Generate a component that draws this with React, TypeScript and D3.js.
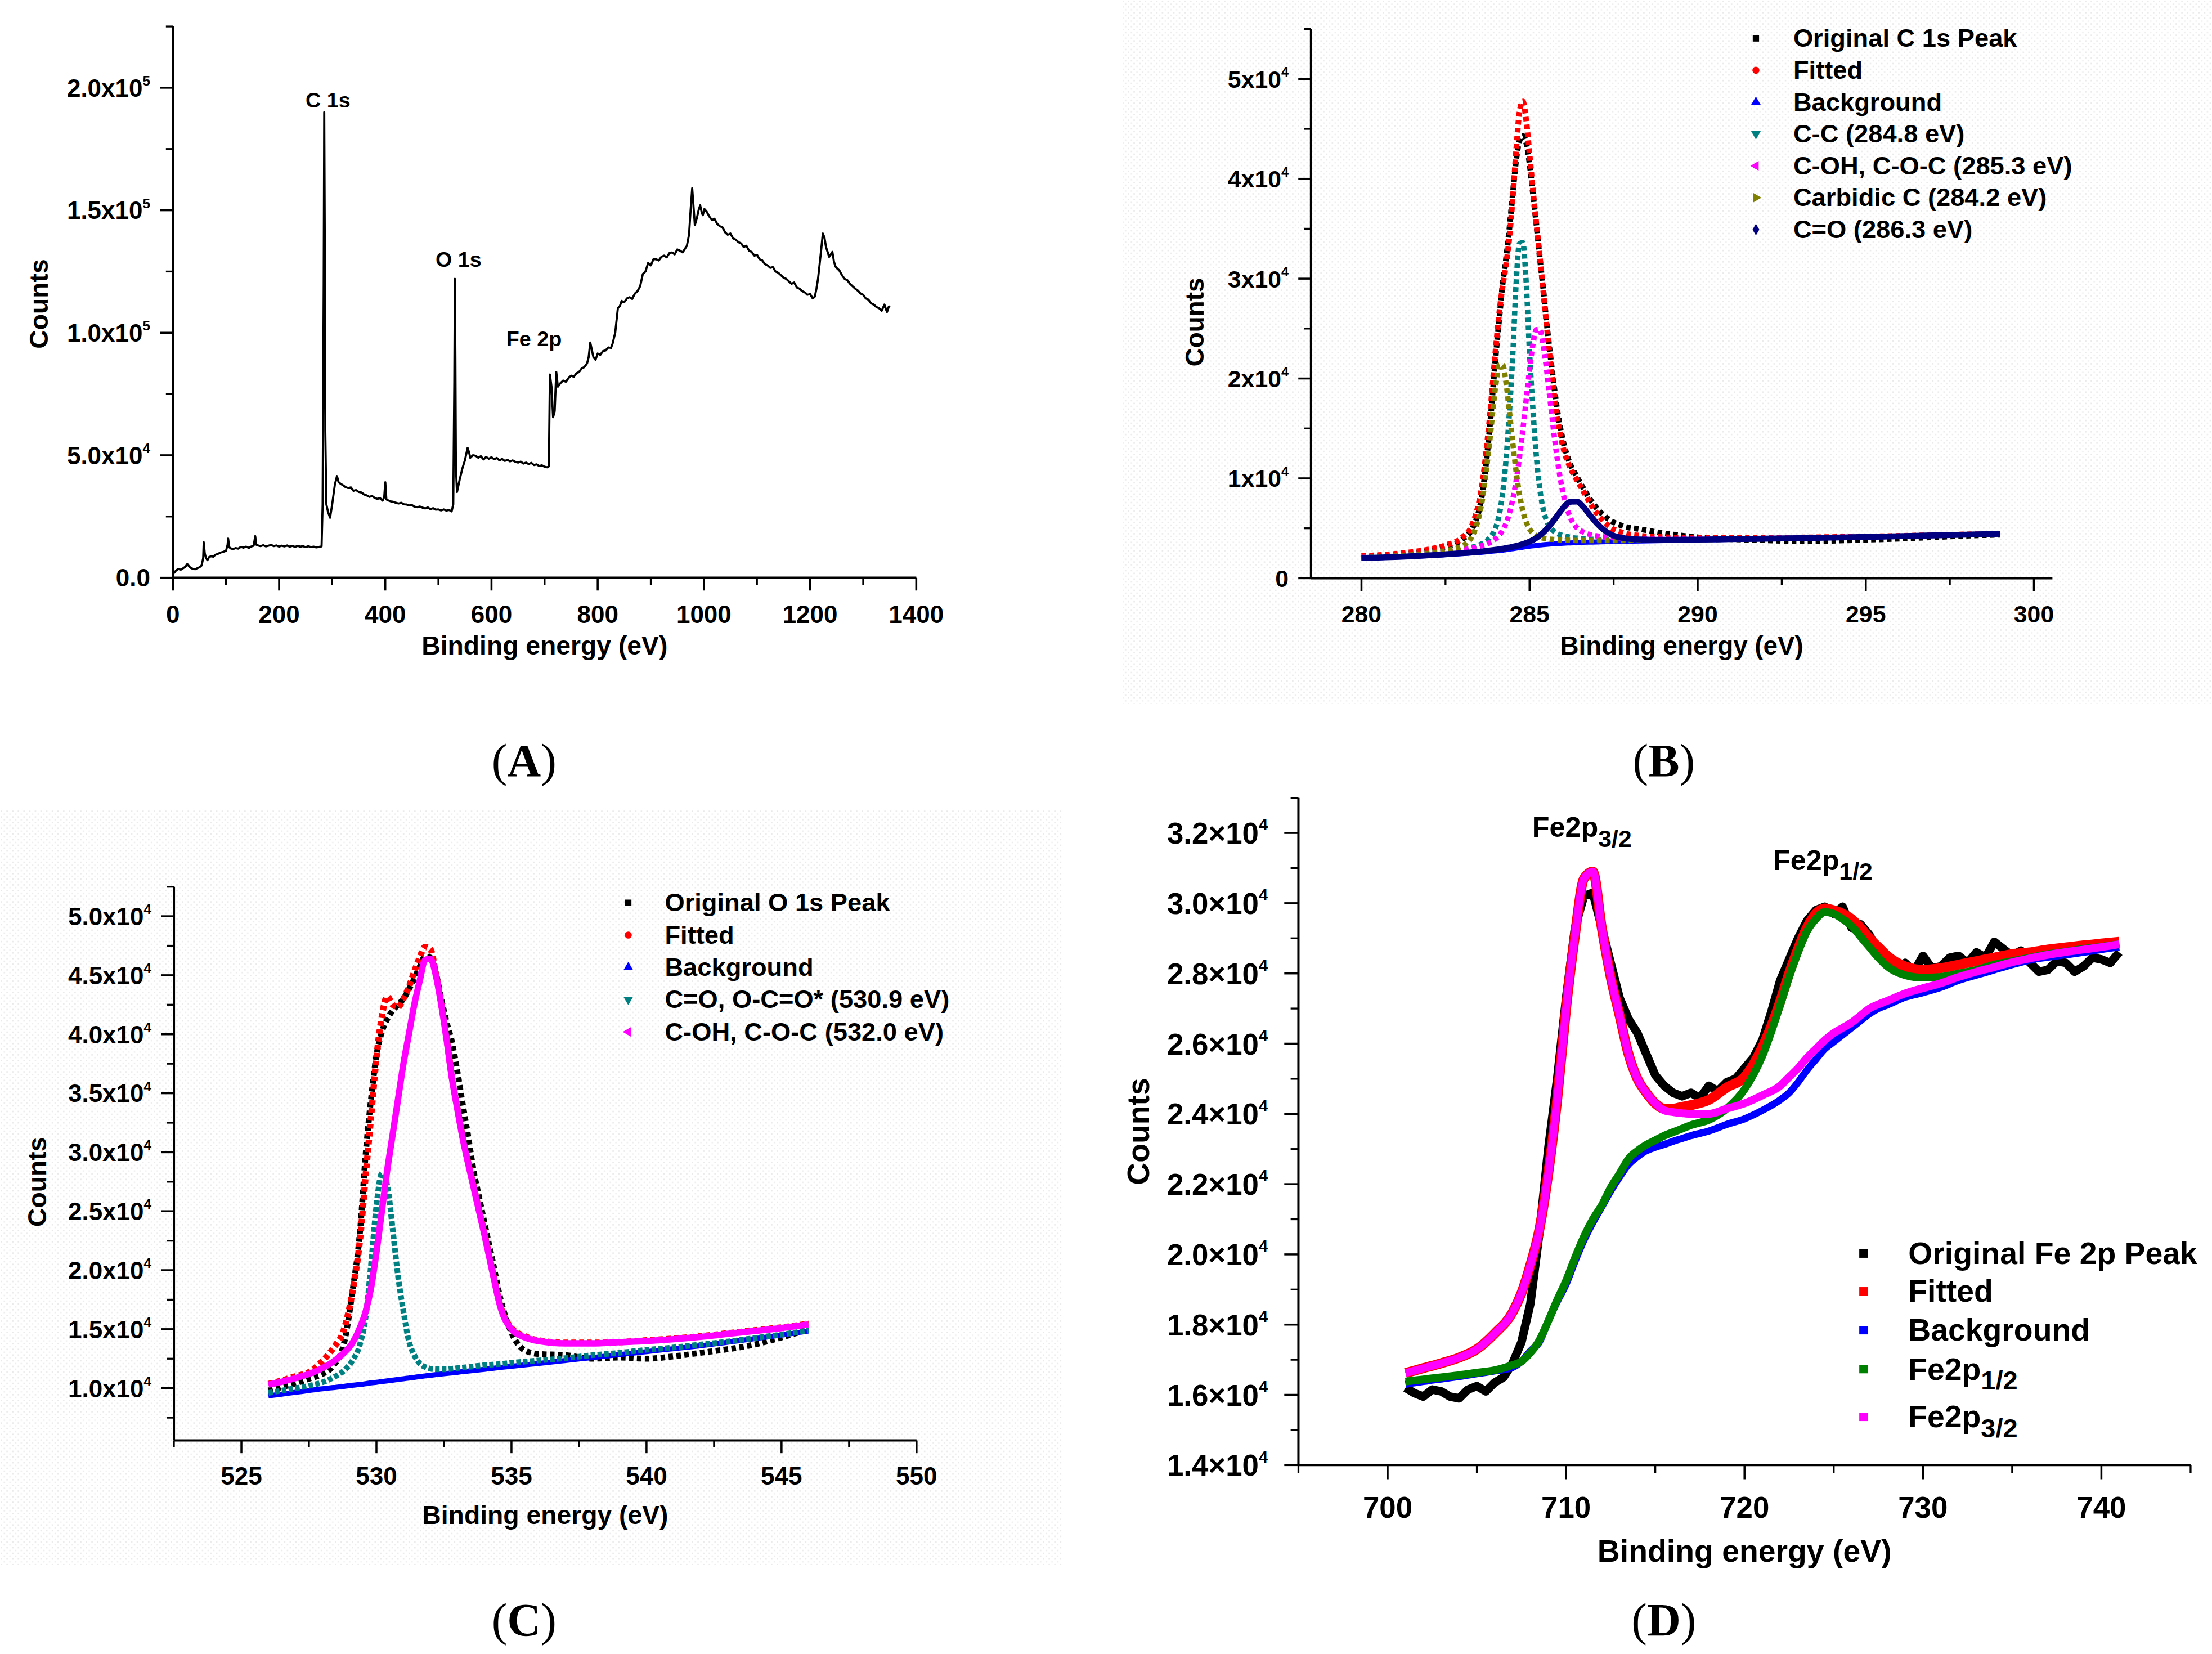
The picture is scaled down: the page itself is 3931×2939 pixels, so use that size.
import React from 'react';
import * as d3 from 'd3';

const FONT = "'Liberation Sans', Arial, Helvetica, sans-serif";
const SERIF = "'Liberation Serif', 'Times New Roman', Times, serif";

// (A) survey spectrum: [binding energy (eV), counts]
const surveyPoints: [number, number][] = [
  [0, 1500], [3, 2200], [6, 3000], [10, 3600], [15, 3300], [20, 4000], [24, 4600], [27, 5600], [30, 4800],
  [33, 4100], [37, 3700], [42, 3500], [46, 3900], [50, 4300], [54, 5000], [57, 8000], [58, 14500], [60, 10000],
  [62, 8200], [65, 7200], [68, 8400], [72, 8800], [76, 8600], [80, 9400], [85, 9800], [90, 10300], [95, 10600],
  [100, 11000], [103, 13500], [104, 16000], [106, 12500], [109, 12000], [113, 11700], [118, 12100], [123, 11900],
  [128, 12600], [133, 12300], [138, 12700], [143, 12200], [148, 12800], [152, 13100], [154, 15500], [155, 17000],
  [157, 13500], [160, 13200], [165, 12900], [170, 13300], [175, 12800], [180, 13100], [185, 13400], [190, 12900],
  [195, 13200], [200, 12700], [205, 13100], [210, 12800], [215, 13200], [220, 12700], [225, 13000], [230, 12600],
  [235, 13000], [240, 12700], [245, 12900], [250, 12500], [255, 12900], [260, 12500], [265, 12700], [270, 12400],
  [275, 12600], [280, 12800], [282, 30000], [284, 120000], [285, 190000], [286, 140000], [287, 60000], [289, 30000],
  [292, 27000], [296, 24500], [300, 30000], [305, 38000], [309, 41500], [312, 39000], [315, 38500], [320, 37800],
  [325, 37000], [330, 36600], [335, 36900], [340, 35500], [345, 35800], [350, 35000], [355, 34800], [360, 34000],
  [365, 33600], [370, 33000], [375, 33400], [380, 32600], [385, 32200], [390, 32500], [395, 31500], [398, 33000],
  [400, 39000], [402, 32000], [405, 31600], [410, 31200], [415, 31000], [420, 30600], [425, 30300], [430, 30600],
  [435, 30000], [440, 29900], [445, 29500], [450, 29700], [455, 29000], [460, 28800], [465, 29100], [470, 28600],
  [475, 28300], [480, 28700], [485, 28000], [490, 28400], [495, 27800], [500, 27900], [505, 27500], [510, 27900],
  [515, 27400], [520, 27700], [525, 27100], [528, 30000], [530, 80000], [531, 122000], [532, 90000], [533, 45000],
  [535, 35000], [540, 40000], [545, 44500], [550, 48000], [555, 53000], [558, 51000], [560, 49000], [565, 50000],
  [570, 49800], [575, 49000], [580, 49600], [585, 48300], [590, 49300], [595, 48600], [600, 49200], [605, 48400],
  [610, 48900], [615, 47900], [620, 48500], [625, 47700], [630, 48100], [635, 47500], [640, 47900], [645, 47300],
  [650, 47000], [655, 47400], [660, 46600], [665, 47000], [670, 46400], [675, 46900], [680, 46000], [685, 46300],
  [690, 45600], [695, 45900], [700, 45300], [705, 45100], [708, 45500], [710, 83000], [713, 78000], [716, 65500],
  [719, 68000], [722, 84000], [725, 78000], [730, 79500], [735, 80500], [740, 80000], [745, 81500], [750, 82500],
  [755, 82000], [760, 83500], [765, 84000], [770, 85500], [775, 86000], [780, 87500], [783, 90000], [786, 96000],
  [789, 93000], [792, 90000], [796, 89000], [800, 91500], [805, 91000], [810, 92500], [815, 92800], [820, 94000],
  [825, 93800], [828, 95500], [833, 100000], [838, 110000], [842, 111000], [845, 113000], [850, 112500],
  [855, 114000], [860, 114500], [865, 113800], [870, 116000], [875, 117000], [880, 119000], [885, 124000],
  [890, 125000], [895, 128500], [900, 127500], [905, 130000], [910, 130000], [915, 129500], [920, 131000],
  [925, 131500], [930, 130800], [935, 132500], [940, 132800], [945, 132000], [950, 134000], [955, 133500],
  [960, 132800], [965, 134500], [968, 135500], [972, 140000], [975, 150000], [978, 159000], [981, 150000],
  [983, 144000], [987, 147000], [990, 150000], [993, 152000], [996, 149000], [998, 148000], [1001, 150500],
  [1005, 149500], [1010, 147500], [1015, 146000], [1020, 146500], [1025, 144500], [1030, 143500], [1035, 143000],
  [1040, 141000], [1045, 140000], [1050, 140500], [1055, 138500], [1060, 138000], [1065, 137000], [1070, 136500],
  [1075, 135000], [1080, 135500], [1085, 133500], [1090, 133000], [1095, 131500], [1100, 131800], [1105, 130000],
  [1110, 129500], [1115, 128000], [1120, 127500], [1125, 126500], [1130, 126800], [1135, 125000], [1140, 124500],
  [1145, 123500], [1150, 122500], [1155, 122000], [1160, 121000], [1165, 120000], [1170, 120500], [1175, 118500],
  [1180, 118000], [1185, 117000], [1190, 116500], [1195, 115500], [1200, 115800], [1205, 114000], [1209, 114800],
  [1212, 118000], [1215, 122000], [1218, 128000], [1221, 134000], [1224, 140500], [1227, 139000], [1230, 135000],
  [1233, 133000], [1236, 131000], [1239, 132000], [1242, 133000], [1245, 129000], [1248, 127000], [1252, 126000],
  [1255, 125500], [1260, 123500], [1265, 122000], [1270, 121500], [1275, 120000], [1280, 119000], [1285, 118000],
  [1290, 117200], [1295, 116000], [1300, 115500], [1305, 114000], [1310, 113500], [1315, 112000], [1320, 111500],
  [1325, 110500], [1330, 110000], [1335, 109000], [1340, 111500], [1343, 109500], [1345, 108500], [1348, 110500],
  [1350, 111000],
];
const surveyPeaks = [
  { label: 'C 1s', energy: 292, counts: 192000 },
  { label: 'O 1s', energy: 538, counts: 127000 },
  { label: 'Fe 2p', energy: 680, counts: 94500 },
];
const surveyXTicks = [0, 200, 400, 600, 800, 1000, 1200, 1400];
const surveyYTicks = [0, 50000, 100000, 150000, 200000];

// (B) C 1s
const c1sEnergy = [280, 280.5, 281, 281.5, 282, 282.5, 283, 283.3, 283.6, 283.8, 284.0, 284.1, 284.2, 284.3, 284.4, 284.5, 284.6, 284.7, 284.8, 284.9, 285.0, 285.1, 285.2, 285.3, 285.4, 285.5, 285.6, 285.7, 285.8, 286.0, 286.2, 286.4, 286.6, 286.8, 287.0, 287.4, 287.8, 288.3, 289, 290, 291, 292, 293, 294, 295, 296, 297, 298, 299];
const c1sOriginal = [2050, 2200, 2350, 2500, 2750, 3150, 3900, 5000, 8600, 14500, 22500, 26000, 29500, 32000, 35000, 38500, 41800, 43800, 44300, 43600, 41500, 38500, 35500, 32200, 29200, 25800, 22800, 20000, 17400, 13700, 11500, 10200, 9000, 7900, 7000, 5800, 5200, 4900, 4500, 4100, 3900, 3800, 3700, 3750, 3850, 3950, 4100, 4250, 4350];
const c1sFitted = [2212, 2314, 2439, 2621, 2881, 3301, 4082, 5404, 9614, 15583, 23241, 26611, 29224, 31379, 34147, 38099, 42807, 46655, 47745, 45872, 42481, 38911, 35599, 32383, 29012, 25588, 22233, 19231, 16651, 13078, 11130, 9869, 8705, 7523, 6491, 5110, 4526, 4256, 4109, 4037, 4028, 4048, 4082, 4124, 4172, 4242, 4316, 4390, 4465];
const c1sBackground = [2000, 2050, 2100, 2170, 2250, 2350, 2450, 2520, 2600, 2660, 2730, 2770, 2810, 2850, 2900, 2950, 3000, 3050, 3100, 3150, 3200, 3240, 3280, 3320, 3350, 3380, 3410, 3440, 3460, 3500, 3530, 3560, 3590, 3610, 3630, 3660, 3690, 3720, 3760, 3820, 3880, 3940, 4000, 4060, 4120, 4200, 4280, 4360, 4440];
const c1sCC = [2057, 2121, 2191, 2291, 2418, 2598, 2851, 3101, 3485, 3990, 5150, 6400, 8530, 11850, 16560, 22330, 29500, 33500, 33600, 29600, 22580, 16900, 12280, 9040, 6980, 5800, 5120, 4770, 4520, 4267, 4111, 4014, 3953, 3908, 3878, 3840, 3826, 3820, 3831, 3867, 3913, 3964, 4019, 4075, 4132, 4210, 4289, 4367, 4446];
const c1sCOH = [2072, 2138, 2210, 2311, 2437, 2608, 2830, 3020, 3280, 3530, 3970, 4290, 4800, 5490, 6500, 7900, 9740, 12090, 14850, 17890, 20900, 23400, 24880, 24920, 23510, 21080, 18150, 15190, 12500, 8450, 6170, 5080, 4615, 4373, 4240, 4074, 3990, 3931, 3901, 3908, 3940, 3984, 4033, 4086, 4141, 4217, 4294, 4372, 4450];
const c1sCarbidic = [2066, 2135, 2214, 2330, 2490, 2749, 3240, 4250, 7960, 13280, 19460, 21330, 21370, 19580, 16710, 13570, 10710, 8410, 6740, 5620, 4930, 4500, 4250, 4110, 4017, 3960, 3918, 3887, 3859, 3820, 3793, 3779, 3776, 3770, 3768, 3767, 3775, 3786, 3808, 3853, 3904, 3959, 4015, 4072, 4130, 4208, 4287, 4366, 4445];
const c1sCO = [2017, 2070, 2124, 2199, 2286, 2396, 2511, 2593, 2689, 2763, 2851, 2901, 2954, 3009, 3077, 3149, 3227, 3315, 3415, 3532, 3671, 3831, 4029, 4273, 4555, 4888, 5275, 5704, 6152, 7041, 7646, 7676, 7131, 6302, 5495, 4409, 4005, 3879, 3849, 3869, 3911, 3961, 4015, 4071, 4129, 4207, 4286, 4365, 4444];
const c1sXTicks = [280, 285, 290, 295, 300];
const c1sYTicks = [0, 10000, 20000, 30000, 40000, 50000];

// (C) O 1s
const o1sEnergy = [526, 526.5, 527, 527.5, 528, 528.4, 528.8, 529.1, 529.4, 529.6, 529.8, 530.0, 530.2, 530.4, 530.6, 530.8, 531.0, 531.2, 531.4, 531.6, 531.8, 532.0, 532.2, 532.4, 532.6, 532.8, 533.0, 533.2, 533.4, 533.6, 533.8, 534.0, 534.3, 534.6, 535.0, 535.5, 536, 537, 538, 539, 540, 541, 542, 543, 544, 545, 546];
const o1sOriginal = [9800, 10100, 10400, 10800, 11200, 11900, 13800, 18000, 23500, 29800, 34500, 38200, 40200, 41300, 42000, 42500, 43000, 43800, 44700, 45700, 46600, 46500, 45200, 43000, 41000, 39300, 36800, 34000, 31300, 28400, 26200, 24000, 20800, 17500, 14700, 13200, 12900, 12800, 12500, 12600, 12500, 12700, 13000, 13300, 13700, 14300, 15000];
const o1sFitted = [10350, 10650, 11000, 11350, 12300, 13400, 15000, 18000, 22800, 28000, 33000, 38000, 41500, 43200, 42500, 42300, 43000, 44000, 45300, 46500, 47400, 47200, 45100, 42600, 39600, 36300, 33700, 31200, 29100, 27100, 25100, 23100, 19900, 16900, 15100, 14400, 14050, 13850, 13850, 13900, 14050, 14200, 14400, 14650, 14900, 15150, 15450];
const o1sBackground = [9350, 9500, 9650, 9800, 9950, 10050, 10150, 10250, 10320, 10380, 10450, 10500, 10560, 10620, 10680, 10740, 10800, 10860, 10920, 10980, 11040, 11100, 11150, 11200, 11250, 11300, 11350, 11400, 11450, 11500, 11550, 11600, 11680, 11760, 11860, 11980, 12100, 12350, 12600, 12850, 13100, 13350, 13600, 13900, 14200, 14500, 14850];
const o1sCO = [9600, 9800, 10000, 10200, 10500, 10900, 11500, 12300, 13800, 16000, 20500, 25500, 28200, 27200, 23500, 19500, 16500, 14000, 12800, 12100, 11800, 11650, 11600, 11600, 11600, 11650, 11700, 11750, 11800, 11850, 11900, 11950, 12000, 12050, 12150, 12250, 12350, 12550, 12800, 13000, 13250, 13450, 13700, 13950, 14250, 14550, 14900];
const o1sCOH = [10300, 10550, 10850, 11200, 11700, 12250, 13000, 13800, 15200, 16500, 18500, 21500, 25000, 28500, 31500, 34500, 37500, 40000, 42500, 44500, 46300, 46400, 45000, 42500, 39500, 36200, 33600, 31100, 29000, 27000, 25000, 23000, 19800, 16800, 15000, 14300, 14000, 13800, 13800, 13900, 14000, 14150, 14350, 14600, 14850, 15100, 15400];
const o1sXTicks = [525, 530, 535, 540, 545, 550];
const o1sYTicks = [10000, 15000, 20000, 25000, 30000, 35000, 40000, 45000, 50000];

// (D) Fe 2p
const fe2pRawEnergy = [701, 701.5, 702, 702.5, 703, 703.5, 704, 704.5, 705, 705.5, 706, 706.5, 707, 707.5, 708, 708.5, 709, 709.5, 710, 710.5, 711, 711.5, 712, 712.5, 713, 713.5, 714, 714.5, 715, 715.5, 716, 716.5, 717, 717.5, 718, 718.5, 719, 719.5, 720, 720.5, 721, 721.5, 722, 722.5, 723, 723.5, 724, 724.5, 725, 725.5, 726, 726.5, 727, 727.5, 728, 728.5, 729, 729.5, 730, 730.5, 731, 731.5, 732, 732.5, 733, 733.5, 734, 734.5, 735, 735.5, 736, 736.5, 737, 737.5, 738, 738.5, 739, 739.5, 740, 740.5, 741];
const fe2pOriginal = [16200, 16050, 15950, 16150, 16100, 15950, 15900, 16150, 16250, 16100, 16350, 16500, 16900, 17500, 18600, 20600, 23000, 25000, 27300, 29300, 30200, 30300, 29300, 28300, 27300, 26700, 26300, 25700, 25100, 24800, 24600, 24500, 24600, 24450, 24800, 24650, 24900, 25000, 25300, 25600, 26100, 26900, 27800, 28400, 29000, 29500, 29800, 29900, 29700, 29900, 29300, 29400, 29100, 28600, 28400, 28150, 28300, 28050, 28500, 28150, 28200, 28450, 28500, 28300, 28600, 28450, 28900, 28700, 28500, 28650, 28300, 28050, 28100, 28350, 28300, 28050, 28200, 28450, 28400, 28300, 28600];
const fe2pEnergy = [701, 702, 703, 704, 705, 706, 707, 707.5, 708, 708.5, 709, 709.5, 710, 710.5, 711, 711.5, 712, 712.5, 713, 713.5, 714, 714.5, 715, 715.5, 716, 716.5, 717, 718, 719, 720, 721, 722, 722.5, 723, 723.5, 724, 724.5, 725, 725.5, 726, 726.5, 727, 727.5, 728, 729, 730, 731, 732, 733, 734, 735, 736, 737, 738, 739, 740, 741];
const fe2pFitted = [16620, 16760, 16900, 17060, 17300, 17750, 18350, 18900, 19700, 20700, 22300, 24400, 27000, 29100, 30700, 30900, 29300, 27900, 26800, 25700, 25000, 24600, 24300, 24150, 24150, 24200, 24250, 24400, 24750, 25050, 25900, 27200, 28000, 28700, 29300, 29700, 29850, 29800, 29700, 29550, 29300, 29000, 28750, 28500, 28200, 28100, 28150, 28250, 28350, 28450, 28550, 28600, 28680, 28740, 28800, 28850, 28900];
const fe2pBackground = [16300, 16380, 16450, 16520, 16600, 16680, 16780, 16950, 17250, 17500, 18100, 18650, 19150, 19800, 20400, 20900, 21350, 21800, 22200, 22560, 22780, 22950, 23050, 23130, 23220, 23300, 23380, 23510, 23700, 23860, 24100, 24400, 24600, 24900, 25250, 25550, 25850, 26050, 26250, 26450, 26650, 26850, 27000, 27100, 27320, 27450, 27600, 27800, 27950, 28100, 28250, 28380, 28460, 28530, 28600, 28680, 28750];
const fe2p12 = [16380, 16440, 16500, 16560, 16630, 16700, 16850, 16950, 17200, 17550, 18100, 18700, 19250, 19900, 20500, 21000, 21400, 21900, 22300, 22720, 22950, 23120, 23250, 23380, 23480, 23580, 23680, 23830, 24150, 24700, 25650, 27100, 27900, 28600, 29200, 29550, 29750, 29700, 29550, 29350, 29050, 28750, 28450, 28200, 27950, 27880, 27900, 28000, 28100, 28250, 28350, 28450, 28550, 28620, 28700, 28760, 28830];
const fe2p32 = [16620, 16760, 16900, 17060, 17300, 17750, 18350, 18900, 19700, 20700, 22300, 24400, 27000, 29100, 30700, 30900, 29300, 27900, 26800, 25700, 25000, 24600, 24300, 24100, 24050, 24020, 24000, 24000, 24150, 24300, 24530, 24800, 25050, 25300, 25600, 25850, 26100, 26300, 26450, 26600, 26800, 27000, 27120, 27220, 27430, 27580, 27720, 27900, 28050, 28180, 28320, 28430, 28530, 28610, 28680, 28750, 28830];
const fe2pXTicks = [700, 710, 720, 730, 740];
const fe2pYTicks = [14000, 16000, 18000, 20000, 22000, 24000, 26000, 28000, 30000, 32000];

type MarkerKind = 'square' | 'circle' | 'up' | 'down' | 'left' | 'right' | 'diamond';

interface Trace {
  label: React.ReactNode;
  color: string;
  values: number[];
  energy?: number[];
  curve?: d3.CurveFactory;
  width: number;
  dash?: string;
  marker: MarkerKind;
}

interface Legend {
  markerX: number;
  textX: number;
  baselines: number[];
  markerDy: number;
  fontSize: number;
  markerSize: number;
  squares?: boolean;
}

interface Note {
  content: React.ReactNode;
  x: number;
  y: number;
  anchor: 'start' | 'middle';
  size: number;
}

interface PanelProps {
  frame: { left: number; right: number; top: number; bottom: number };
  xDomain: [number, number];
  yDomain: [number, number];
  xTicks: number[];
  xMinorStep: number;
  yTicks: number[];
  yMinorStep: number;
  yLabel: (v: number, size: number) => React.ReactNode;
  energy: number[];
  traces: Trace[];
  curve: d3.CurveFactory;
  tickSize: number;
  titleSize: number;
  tickLen: number;
  xLabelDy: number;
  xTitleDy: number;
  yLabelGap: number;
  yTitle: [number, number];
  legend?: Legend;
  notes?: Note[];
}

const sup = (base: string, exp: string, size: number) => (
  <>
    {base}
    <tspan fontSize={size * 0.55} dy={-size * 0.45}>{exp}</tspan>
  </>
);

const sub = (base: string, idx: string, size: number, drop: number) => (
  <>
    {base}
    <tspan fontSize={size * 0.85} dy={drop}>{idx}</tspan>
  </>
);

function markerPath(kind: MarkerKind, area: number) {
  const type = kind === 'square' ? d3.symbolSquare
    : kind === 'circle' ? d3.symbolCircle
    : kind === 'diamond' ? d3.symbolDiamond
    : d3.symbolTriangle;
  return d3.symbol().type(type).size(area)() as string;
}
const markerTurn: Record<MarkerKind, number> = { square: 0, circle: 0, diamond: 0, up: 0, down: 180, left: -90, right: 90 };

function minorTicks(domain: [number, number], step: number, majors: number[]) {
  const start = Math.ceil(domain[0] / step) * step;
  return d3.range(start, domain[1] + step * 0.01, step).filter(v => !majors.some(m => Math.abs(m - v) < step * 0.01));
}

function SpectrumPanel(p: PanelProps) {
  const { frame } = p;
  const x = d3.scaleLinear().domain(p.xDomain).range([frame.left, frame.right]);
  const y = d3.scaleLinear().domain(p.yDomain).range([frame.bottom, frame.top]);
  const xMinor = minorTicks(p.xDomain, p.xMinorStep, p.xTicks);
  const yMinor = minorTicks(p.yDomain, p.yMinorStep, p.yTicks);
  const minorLen = p.tickLen * 0.55;

  return (
    <g fontFamily={FONT} fontWeight="bold" fill="#000">
      {p.traces.map((t, i) => {
        const ex = t.energy ?? p.energy;
        const line = d3.line<number>()
          .x((_, j) => x(ex[j]))
          .y(d => y(d))
          .curve(t.curve ?? p.curve);
        return (
          <path key={i} d={line(t.values) || ''} fill="none" stroke={t.color}
            strokeWidth={t.width} strokeDasharray={t.dash} strokeLinejoin="round" />
        );
      })}

      <line x1={frame.left} x2={frame.right} y1={frame.bottom} y2={frame.bottom} stroke="#000" strokeWidth={1.6} />
      <line x1={frame.left} x2={frame.left} y1={frame.bottom} y2={frame.top} stroke="#000" strokeWidth={1.6} />

      {p.xTicks.map(t => (
        <g key={`xt${t}`}>
          <line x1={x(t)} x2={x(t)} y1={frame.bottom} y2={frame.bottom + p.tickLen} stroke="#000" strokeWidth={1.4} />
          <text x={x(t)} y={frame.bottom + p.xLabelDy} textAnchor="middle" fontSize={p.tickSize}>{t}</text>
        </g>
      ))}
      {xMinor.map(t => (
        <line key={`xm${t}`} x1={x(t)} x2={x(t)} y1={frame.bottom} y2={frame.bottom + minorLen} stroke="#000" strokeWidth={1.3} />
      ))}
      {p.yTicks.map(t => (
        <g key={`yt${t}`}>
          <line x1={frame.left - p.tickLen} x2={frame.left} y1={y(t)} y2={y(t)} stroke="#000" strokeWidth={1.4} />
          <text x={frame.left - p.yLabelGap} y={y(t) + p.tickSize * 0.36} textAnchor="end" fontSize={p.tickSize}>
            {p.yLabel(t, p.tickSize)}
          </text>
        </g>
      ))}
      {yMinor.map(t => (
        <line key={`ym${t}`} x1={frame.left - minorLen} x2={frame.left} y1={y(t)} y2={y(t)} stroke="#000" strokeWidth={1.3} />
      ))}

      <text x={(frame.left + frame.right) / 2} y={frame.bottom + p.xTitleDy} textAnchor="middle" fontSize={p.titleSize}>
        Binding energy (eV)
      </text>
      <text transform={`translate(${p.yTitle[0]},${p.yTitle[1]}) rotate(-90)`} textAnchor="middle" fontSize={p.titleSize}>
        Counts
      </text>

      {p.notes?.map((n, i) => (
        <text key={`n${i}`} x={x(n.x)} y={y(n.y)} textAnchor={n.anchor} fontSize={n.size}>{n.content}</text>
      ))}

      {p.legend && p.traces.map((t, i) => {
        const lg = p.legend!;
        const by = lg.baselines[i];
        const kind: MarkerKind = lg.squares ? 'square' : t.marker;
        return (
          <g key={`lg${i}`}>
            <path d={markerPath(kind, lg.markerSize)} fill={t.color}
              transform={`translate(${lg.markerX},${by + lg.markerDy}) rotate(${markerTurn[kind]})`} />
            <text x={lg.textX} y={by} fontSize={lg.fontSize}>{t.label}</text>
          </g>
        );
      })}
    </g>
  );
}

const PanelTag = ({ x, y, letter }: { x: number; y: number; letter: string }) => (
  <text x={x} y={y} textAnchor="middle" fontFamily={SERIF} fontSize={33} fill="#000">
    (<tspan fontWeight="bold">{letter}</tspan>)
  </text>
);

const DOT = '3.2 2.4';

export default function App() {
  const surveyEnergy = surveyPoints.map(d => d[0]);
  const surveyCounts = surveyPoints.map(d => d[1]);

  const c1sTraces: Trace[] = [
    { label: 'Original C 1s Peak', color: '#000000', values: c1sOriginal, width: 4, dash: DOT, marker: 'square' },
    { label: 'Fitted', color: '#ff0000', values: c1sFitted, width: 4, dash: DOT, marker: 'circle' },
    { label: 'Background', color: '#0000ff', values: c1sBackground, width: 3.5, marker: 'up' },
    { label: 'C-C (284.8 eV)', color: '#008080', values: c1sCC, width: 3.8, dash: DOT, marker: 'down' },
    { label: 'C-OH, C-O-C (285.3 eV)', color: '#ff00ff', values: c1sCOH, width: 3.8, dash: DOT, marker: 'left' },
    { label: 'Carbidic C (284.2 eV)', color: '#808000', values: c1sCarbidic, width: 3.8, dash: DOT, marker: 'right' },
    { label: 'C=O (286.3 eV)', color: '#000080', values: c1sCO, width: 4.2, marker: 'diamond' },
  ];

  const o1sTraces: Trace[] = [
    { label: 'Original O 1s Peak', color: '#000000', values: o1sOriginal, width: 4.2, dash: DOT, marker: 'square' },
    { label: 'Fitted', color: '#ff0000', values: o1sFitted, width: 4.5, dash: DOT, marker: 'circle' },
    { label: 'Background', color: '#0000ff', values: o1sBackground, width: 3.6, marker: 'up' },
    { label: 'C=O, O-C=O* (530.9 eV)', color: '#008080', values: o1sCO, width: 4, dash: '3.2 1.6', marker: 'down' },
    { label: 'C-OH, C-O-C (532.0 eV)', color: '#ff00ff', values: o1sCOH, width: 4.5, marker: 'left' },
  ];

  const fe2pTraces: Trace[] = [
    { label: 'Original Fe 2p Peak', color: '#000000', values: fe2pOriginal, energy: fe2pRawEnergy, curve: d3.curveLinear, width: 6, marker: 'square' },
    { label: 'Fitted', color: '#ff0000', values: fe2pFitted, width: 7, marker: 'square' },
    { label: 'Background', color: '#0000ff', values: fe2pBackground, width: 5, marker: 'square' },
    { label: sub('Fe2p', '1/2', 22, 7), color: '#008000', values: fe2p12, width: 5.5, marker: 'square' },
    { label: sub('Fe2p', '3/2', 22, 7), color: '#ff00ff', values: fe2p32, width: 5.5, marker: 'square' },
  ];

  return (
    <svg width={3931} height={2939} viewBox="0 0 1562 1168"
      style={{ position: 'absolute', left: 0, top: 0, display: 'block', background: '#ffffff' }}>
      <defs>
        <pattern id="speckle" width={4} height={4} patternUnits="userSpaceOnUse">
          <rect x={0.4} y={0.4} width={1} height={1} fill="#e9e9e9" />
          <rect x={2.4} y={2.4} width={1} height={1} fill="#ededed" />
        </pattern>
      </defs>
      <rect x={0} y={0} width={1562} height={1168} fill="#ffffff" />
      <rect x={793} y={0} width={769} height={497} fill="url(#speckle)" />
      <rect x={0} y={572} width={750} height={533} fill="url(#speckle)" />

      <SpectrumPanel
        frame={{ left: 122, right: 647, top: 18.7, bottom: 408 }}
        xDomain={[0, 1400]} yDomain={[0, 225000]}
        xTicks={surveyXTicks} xMinorStep={100}
        yTicks={surveyYTicks} yMinorStep={25000}
        yLabel={(v, s) => v === 0 ? '0.0' : v < 100000 ? sup(`${(v / 1e4).toFixed(1)}x10`, '4', s) : sup(`${(v / 1e5).toFixed(1)}x10`, '5', s)}
        energy={surveyEnergy}
        traces={[{ label: 'Survey', color: '#000000', values: surveyCounts, width: 1.5, marker: 'square' }]}
        curve={d3.curveLinear}
        tickSize={17.5} titleSize={18.4} tickLen={9}
        xLabelDy={32} xTitleDy={54} yLabelGap={16} yTitle={[33.5, 214.6]}
        notes={surveyPeaks.map(pk => ({ content: pk.label, x: pk.energy, y: pk.counts, anchor: 'middle' as const, size: 15 }))}
      />

      <SpectrumPanel
        frame={{ left: 925.8, right: 1449.4, top: 20.5, bottom: 408.3 }}
        xDomain={[278.5, 300.55]} yDomain={[0, 55000]}
        xTicks={c1sXTicks} xMinorStep={2.5}
        yTicks={c1sYTicks} yMinorStep={5000}
        yLabel={(v, s) => v === 0 ? '0' : sup(`${v / 1e4}x10`, '4', s)}
        energy={c1sEnergy}
        traces={c1sTraces}
        curve={d3.curveMonotoneX}
        tickSize={17} titleSize={18.2} tickLen={9}
        xLabelDy={31.4} xTitleDy={54} yLabelGap={15.8} yTitle={[850, 227.5]}
        legend={{ markerX: 1240, textX: 1266.4, baselines: d3.range(7).map(i => 33.1 + 22.5 * i), markerDy: -6, fontSize: 18, markerSize: 20 }}
      />

      <SpectrumPanel
        frame={{ left: 122.7, right: 647.2, top: 626.2, bottom: 1017.2 }}
        xDomain={[522.5, 550]} yDomain={[5570, 52500]}
        xTicks={o1sXTicks} xMinorStep={2.5}
        yTicks={o1sYTicks} yMinorStep={2500}
        yLabel={(v, s) => sup(`${(v / 1e4).toFixed(1)}x10`, '4', s)}
        energy={o1sEnergy}
        traces={o1sTraces}
        curve={d3.curveMonotoneX}
        tickSize={17.5} titleSize={18.4} tickLen={9}
        xLabelDy={31.2} xTitleDy={58.8} yLabelGap={15.9} yTitle={[32.3, 834.7]}
        legend={{ markerX: 443.6, textX: 469.4, baselines: d3.range(5).map(i => 643.5 + 22.8 * i), markerDy: -6, fontSize: 18, markerSize: 20 }}
      />

      <SpectrumPanel
        frame={{ left: 916.9, right: 1547, top: 563.4, bottom: 1034.6 }}
        xDomain={[695, 745]} yDomain={[14000, 33000]}
        xTicks={fe2pXTicks} xMinorStep={5}
        yTicks={fe2pYTicks} yMinorStep={1000}
        yLabel={(v, s) => sup(`${(v / 1e4).toFixed(1)}×10`, '4', s)}
        energy={fe2pEnergy}
        traces={fe2pTraces}
        curve={d3.curveMonotoneX}
        tickSize={21} titleSize={22} tickLen={10}
        xLabelDy={37.4} xTitleDy={68.4} yLabelGap={21.6} yTitle={[811.5, 799]}
        legend={{ markerX: 1316, textX: 1347.6, baselines: [892.7, 919.4, 946.8, 974.3, 1008], markerDy: -7.5, fontSize: 22, markerSize: 36, squares: true }}
        notes={[
          { content: sub('Fe2p', '3/2', 20, 7), x: 708.1, y: 31890, anchor: 'start', size: 20 },
          { content: sub('Fe2p', '1/2', 20, 7), x: 721.6, y: 30950, anchor: 'start', size: 20 },
        ]}
      />

      <PanelTag x={370} y={548} letter="A" />
      <PanelTag x={1175} y={548} letter="B" />
      <PanelTag x={370} y={1155} letter="C" />
      <PanelTag x={1175} y={1155} letter="D" />
    </svg>
  );
}
